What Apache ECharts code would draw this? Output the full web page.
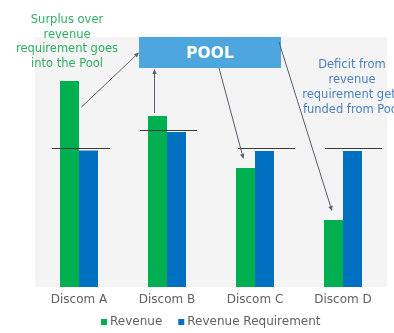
<!DOCTYPE html>
<html>
<head>
<meta charset="utf-8">
<script src="https://cdn.jsdelivr.net/npm/echarts@6/dist/echarts.min.js"></script>
<style>
html,body{margin:0;padding:0;background:#fff;}
#main{width:394px;height:333px;}
</style>
</head>
<body>
<div id="main"></div>
<script>
// ---- data ----
const categories = ['Discom A', 'Discom B', 'Discom C', 'Discom D'];
const revenue = [82.4, 68.4, 47.6, 26.8];
const revenueRequirement = [54.6, 62, 54.4, 54.4];
const requirementLevel = [55.6, 62.8, 55.6, 55.6];
const seriesNames = ['Revenue', 'Revenue Requirement'];
const surplusText = 'Surplus over\nrevenue\nrequirement goes\ninto the Pool';
const deficitText = 'Deficit from\nrevenue\nrequirement gets\nfunded from Pool';
const poolText = 'POOL';

// ---- styles ----
const GREEN = '#00b050';
const BLUE = '#0070c0';
const FONT = 'DejaVu Sans';
const lineSpan = [[-27, 31], [-27, 30], [-17, 40], [-18, 39]];

const chart = echarts.init(document.getElementById('main'), null, {renderer: 'canvas'});

chart.setOption({
  animation: false,
  textStyle: {fontFamily: FONT},
  grid: {left: 35, right: 7, top: 37, bottom: 46, show: true, backgroundColor: '#f4f4f4', borderWidth: 0},
  xAxis: {
    type: 'category',
    data: categories,
    axisLine: {show: false},
    axisTick: {show: false},
    axisLabel: {color: '#606060', fontSize: 12, fontFamily: FONT, margin: 7}
  },
  yAxis: {type: 'value', min: 0, max: 100, show: false, splitLine: {show: false}},
  legend: {
    data: seriesNames,
    bottom: 0,
    left: 96,
    icon: 'rect',
    itemWidth: 6,
    itemHeight: 6,
    itemGap: 16,
    textStyle: {color: '#606060', fontSize: 12, fontFamily: FONT, padding: [0, 0, 0, -2]}
  },
  series: [
    {name: seriesNames[0], type: 'bar', data: revenue, barWidth: 19, barGap: '0%', itemStyle: {color: GREEN}},
    {name: seriesNames[1], type: 'bar', data: revenueRequirement, barWidth: 19, barGap: '0%', itemStyle: {color: BLUE}},
    {
      name: 'level', type: 'custom', z: 5,
      data: requirementLevel.map((v, i) => [i, v]),
      renderItem: function (params, api) {
        const p = api.coord([api.value(0), api.value(1)]);
        const s = lineSpan[params.dataIndex];
        return {
          type: 'line',
          shape: {x1: p[0] + s[0], y1: Math.round(p[1]) + 0.5, x2: p[0] + s[1], y2: Math.round(p[1]) + 0.5},
          style: {stroke: '#3a3a3a', lineWidth: 1}
        };
      }
    }
  ]
});

function arrow(x1, y1, x2, y2) {
  const ang = Math.atan2(y2 - y1, x2 - x1);
  const L = 5, W = 2.2;
  const bx = x2 - L * Math.cos(ang), by = y2 - L * Math.sin(ang);
  const nx = -Math.sin(ang) * W, ny = Math.cos(ang) * W;
  return [
    {type: 'line', shape: {x1: x1, y1: y1, x2: bx, y2: by}, style: {stroke: '#55606e', lineWidth: 1}, z: 20},
    {type: 'polygon', shape: {points: [[x2, y2], [bx + nx, by + ny], [bx - nx, by - ny]]}, style: {fill: '#55606e'}, z: 20}
  ];
}

// pixel positions of the green bar tops from the chart's own scales
const tops = revenue.map((v, i) => {
  const p = chart.convertToPixel({seriesIndex: 0}, [i, v]);
  return [p[0] - 9.5, p[1]];
});

const box = {x: 139, y: 37, w: 142, h: 31};

const elements = [
  {type: 'rect', shape: {x: box.x, y: box.y, width: box.w, height: box.h}, style: {fill: '#4ea6df'}, z: 15},
  {type: 'text', x: box.x + box.w / 2, y: box.y + box.h / 2 + 1, z: 16,
   style: {text: poolText, fill: '#ffffff', font: 'bold 15.5px "' + FONT + '"', align: 'center', verticalAlign: 'middle'}},
  {type: 'text', x: 67, y: 13, z: 16,
   style: {text: surplusText, fill: '#2fae62', font: '11.5px "' + FONT + '"', align: 'center', verticalAlign: 'top', lineHeight: 14.5}},
  {type: 'text', x: 352, y: 58, z: 16,
   style: {text: deficitText, fill: '#4a80c0', font: '11.5px "' + FONT + '"', align: 'center', verticalAlign: 'top', lineHeight: 15}}
];

elements.push(...arrow(tops[0][0] + 12, tops[0][1] + 26, box.x, box.y + box.h / 2));
elements.push(...arrow(tops[1][0] - 3, tops[1][1] - 3, tops[1][0] - 3, box.y + box.h + 1));
elements.push(...arrow(219, box.y + box.h, tops[2][0] - 2, tops[2][1] - 9));
elements.push(...arrow(279, 42, tops[3][0] - 1.5, tops[3][1] - 9));

chart.setOption({graphic: {elements: elements}});
</script>
</body>
</html>
